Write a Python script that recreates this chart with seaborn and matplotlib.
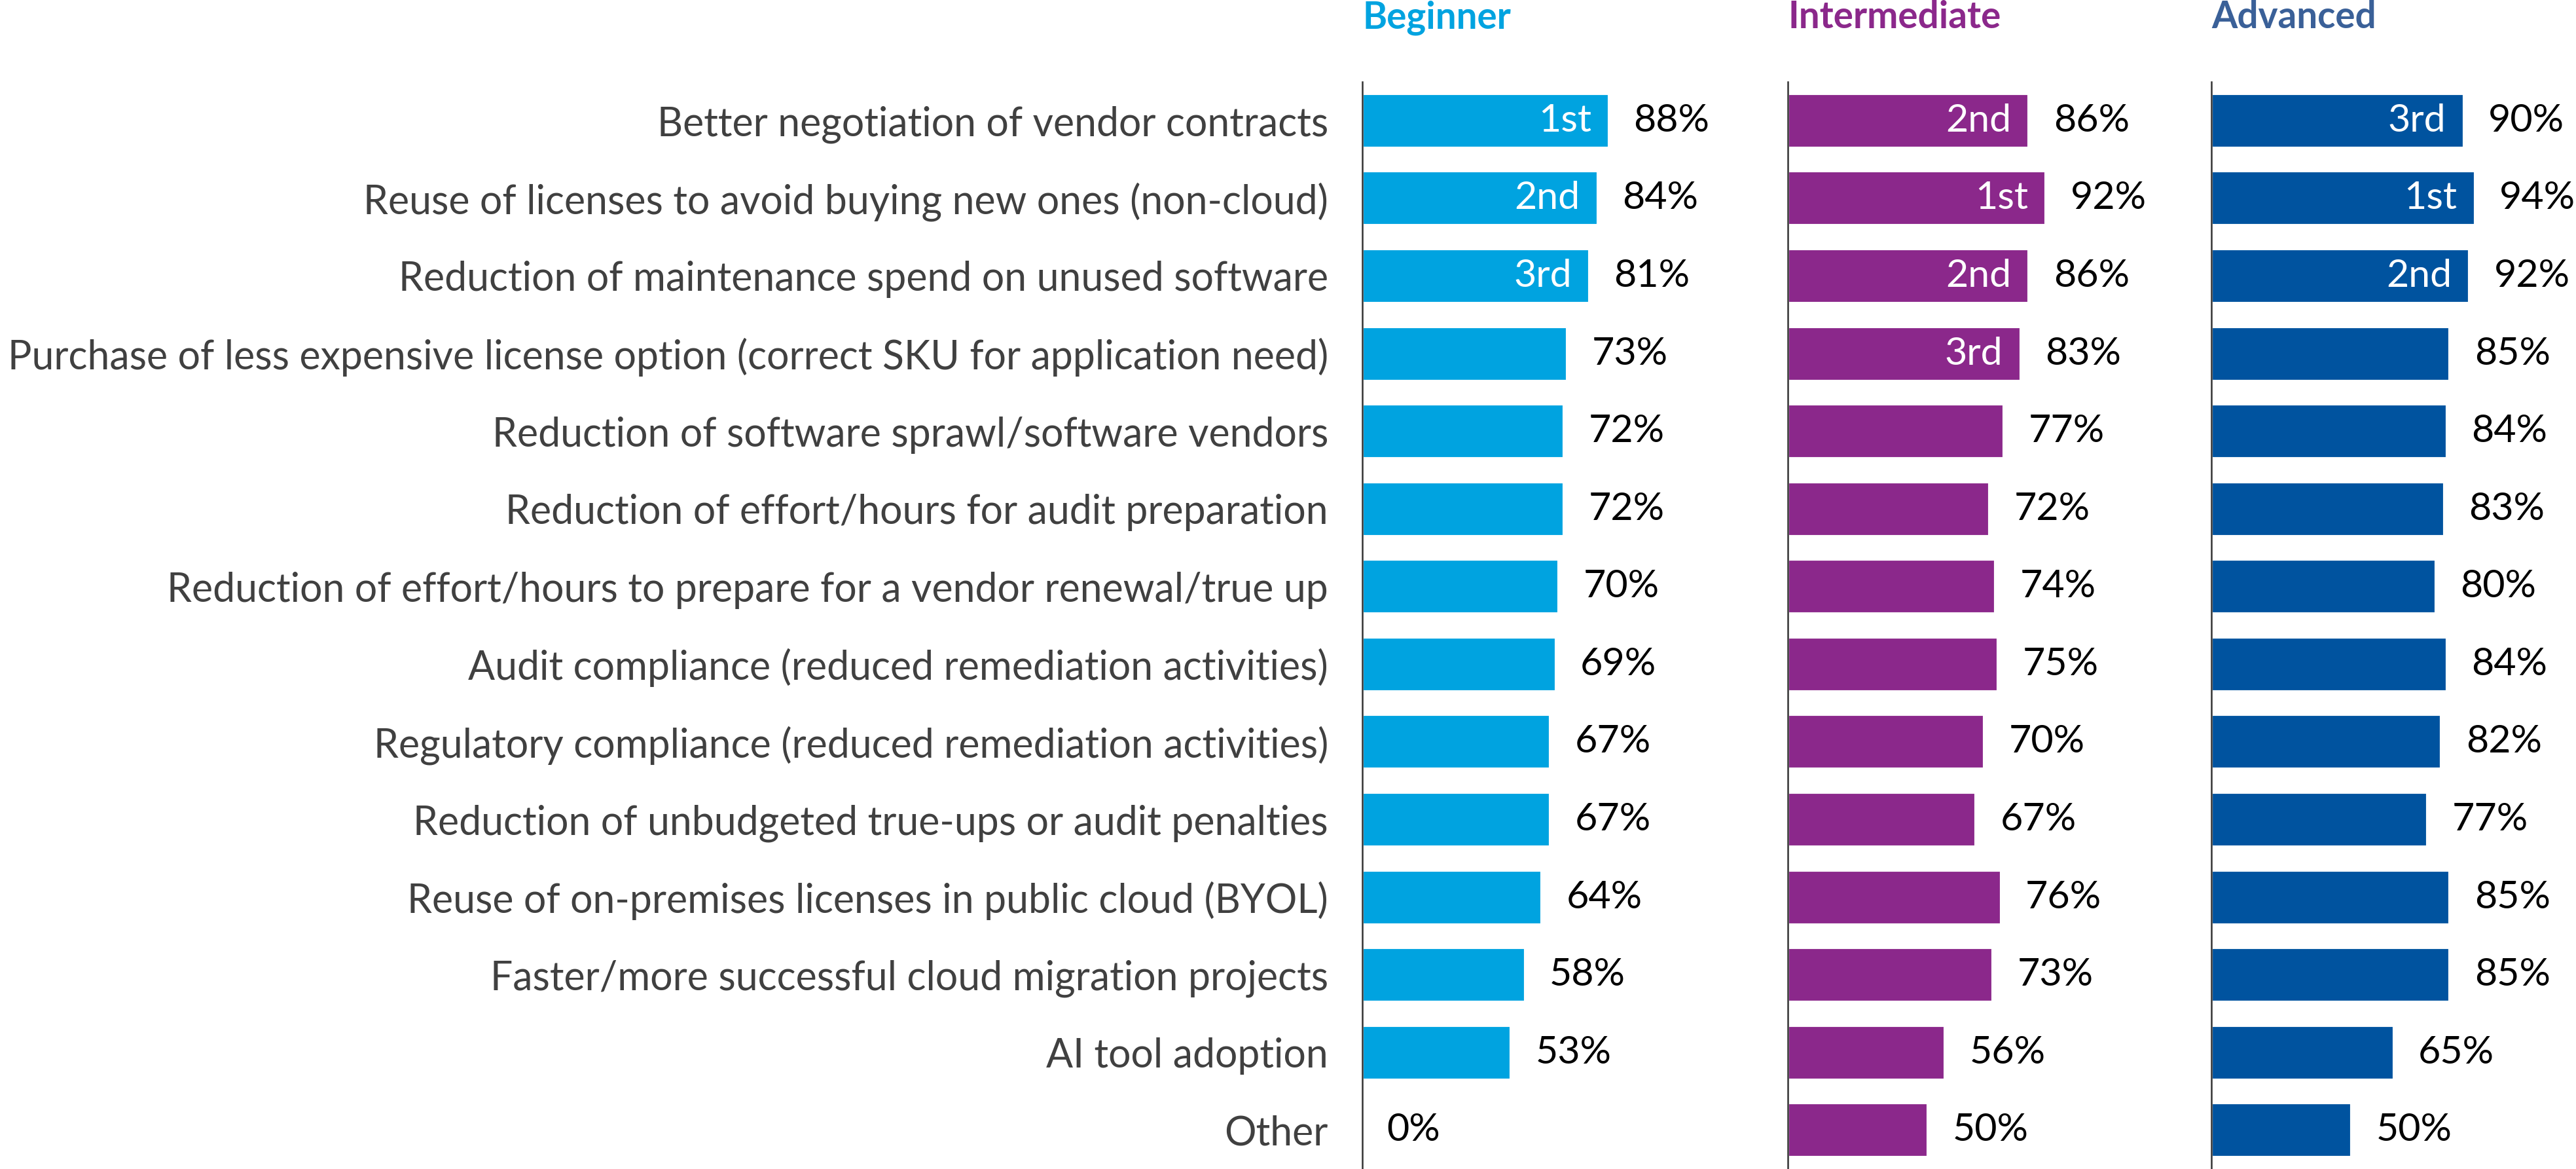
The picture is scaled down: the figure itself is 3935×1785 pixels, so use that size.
import matplotlib.pyplot as plt
import seaborn as sns
import pandas as pd

categories = [
    "Better negotiation of vendor contracts",
    "Reuse of licenses to avoid buying new ones (non-cloud)",
    "Reduction of maintenance spend on unused software",
    "Purchase of less expensive license option (correct SKU for application need)",
    "Reduction of software sprawl/software vendors",
    "Reduction of effort/hours for audit preparation",
    "Reduction of effort/hours to prepare for a vendor renewal/true up",
    "Audit compliance (reduced remediation activities)",
    "Regulatory compliance (reduced remediation activities)",
    "Reduction of unbudgeted true-ups or audit penalties",
    "Reuse of on-premises licenses in public cloud (BYOL)",
    "Faster/more successful cloud migration projects",
    "AI tool adoption",
    "Other",
]
beginner = [88, 84, 81, 73, 72, 72, 70, 69, 67, 67, 64, 58, 53, 0]
intermediate = [86, 92, 86, 83, 77, 72, 74, 75, 70, 67, 76, 73, 56, 50]
advanced = [90, 94, 92, 85, 84, 83, 80, 84, 82, 77, 85, 85, 65, 50]

beginner_rank = ["1st", "2nd", "3rd"] + [""] * 11
intermediate_rank = ["2nd", "1st", "2nd", "3rd"] + [""] * 10
advanced_rank = ["3rd", "1st", "2nd"] + [""] * 11

levels = ["Beginner", "Intermediate", "Advanced"]
bar_colors = ["#00A3E0", "#8B288B", "#00539F"]
header_colors = ["#00A3E0", "#8B288B", "#3A6098"]

sns.set_style("white")
plt.rcParams["font.family"] = ["Lato", "DejaVu Sans"]

W, H, DPI = 3935, 1785, 300
fig = plt.figure(figsize=(W / DPI, H / DPI), dpi=DPI)

panel_left = [2081, 2731, 3378]
panel_w = 557
ax_top = 125

series = [beginner, intermediate, advanced]
ranks = [beginner_rank, intermediate_rank, advanced_rank]

for i, (vals, rk) in enumerate(zip(series, ranks)):
    ax = fig.add_axes([panel_left[i] / W, 0, panel_w / W, (H - ax_top) / H])
    df = pd.DataFrame({"cat": categories, "val": vals})
    sns.barplot(data=df, x="val", y="cat", orient="h", color=bar_colors[i],
                saturation=1, width=0.7, ax=ax)
    ax.set_xlim(0, 130)
    ax.set_ylim(len(categories) - 0.5, -0.5)
    ax.set_xlabel("")
    ax.set_ylabel("")
    ax.set_xticks([])
    for s in ["top", "right", "bottom"]:
        ax.spines[s].set_visible(False)
    ax.spines["left"].set_color("#333333")
    ax.spines["left"].set_linewidth(0.6)
    if i == 0:
        ax.tick_params(axis="y", length=0, pad=12.5, labelsize=14.6, labelcolor="#404040")
    else:
        ax.set_yticklabels([])
        ax.tick_params(axis="y", length=0)
    for j, v in enumerate(vals):
        ax.annotate(f"{v}%", (v, j), xytext=(9, 0), textcoords="offset points",
                    ha="left", va="center", fontsize=14.2, color="black")
        if rk[j]:
            ax.annotate(rk[j], (v, j), xytext=(-6.5, 0), textcoords="offset points",
                        ha="right", va="center", fontsize=14.2, color="white")
    fig.text(panel_left[i] / W, 1 - 43 / H, levels[i], ha="left", va="baseline",
             fontsize=13.6, fontweight="bold", color=header_colors[i])

fig.savefig("out.png", dpi=DPI)
